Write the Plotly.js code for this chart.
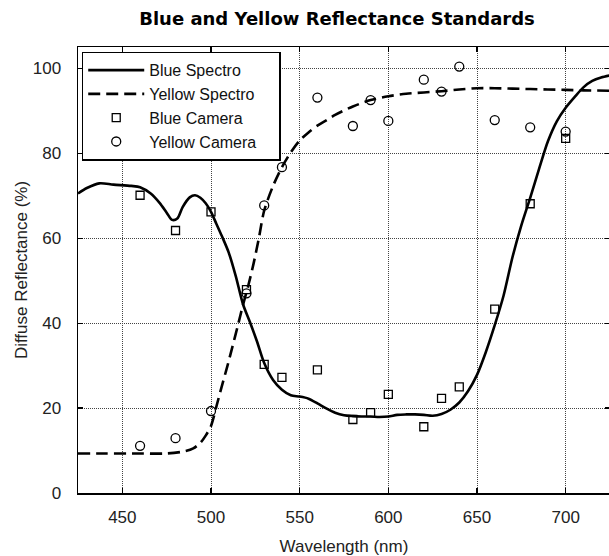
<!DOCTYPE html>
<html>
<head>
<meta charset="utf-8">
<script src="https://cdn.plot.ly/plotly-3.0.1.min.js"></script>
<style>
html,body{margin:0;padding:0;overflow:hidden;background:#fff;}
#chart{width:610px;height:556px;}
</style>
</head>
<body>
<div id="chart"></div>
<script>
// Blue spectrophotometer curve
const blueSpectroX = [425, 430, 437, 445, 455, 460, 466, 471, 475, 478, 481, 484, 488, 491, 494, 497, 500, 503, 506, 510, 514, 518, 522, 526, 530, 535, 540, 545, 550, 555, 560, 565, 570, 575, 580, 585, 590, 595, 600, 605, 610, 615, 620, 625, 630, 635, 640, 645, 650, 655, 660, 665, 670, 675, 680, 685, 690, 695, 700, 705, 710, 715, 720, 725];
const blueSpectroY = [70.5, 71.8, 72.9, 72.6, 72.3, 72.0, 70.5, 68.3, 66.0, 64.3, 64.6, 67.3, 69.6, 70.1, 69.5, 68.2, 66.2, 63.4, 60.6, 56.6, 51.0, 44.5, 40.2, 35.6, 30.6, 26.6, 24.3, 23.0, 22.7, 22.2, 21.1, 19.9, 18.9, 18.3, 18.1, 18.0, 18.0, 17.9, 18.0, 18.4, 18.5, 18.5, 18.4, 18.2, 18.6, 19.6, 21.3, 24.0, 27.8, 33.2, 39.5, 46.5, 55.5, 63.0, 69.5, 76.3, 82.8, 87.5, 90.7, 93.2, 95.5, 97.0, 97.8, 98.3];

// Yellow spectrophotometer curve
const yellowSpectroX = [425, 440, 460, 475, 485, 490, 494, 497, 500, 503, 506, 509, 512, 515, 518, 521, 524, 527, 530, 535, 540, 545, 550, 555, 560, 565, 570, 580, 590, 600, 610, 620, 630, 640, 650, 660, 670, 680, 690, 700, 710, 725];
const yellowSpectroY = [9.3, 9.3, 9.3, 9.3, 9.8, 10.5, 11.8, 13.5, 15.8, 20.3, 25.0, 29.5, 34.3, 39.2, 44.2, 48.8, 54.0, 60.0, 66.5, 72.3, 76.7, 80.2, 83.0, 84.9, 86.5, 87.7, 89.0, 91.0, 92.5, 93.4, 94.0, 94.3, 94.6, 95.0, 95.3, 95.3, 95.2, 95.1, 95.0, 94.9, 94.8, 94.7];

// Camera measurements
const blueCameraX = [460, 480, 500, 520, 530, 540, 560, 580, 590, 600, 620, 630, 640, 660, 680, 700];
const blueCameraY = [70.1, 61.8, 66.2, 47.9, 30.3, 27.2, 29.0, 17.3, 18.9, 23.2, 15.6, 22.3, 25.0, 43.3, 68.1, 83.5];

const yellowCameraX = [460, 480, 500, 520, 530, 540, 560, 580, 590, 600, 620, 630, 640, 660, 680, 700];
const yellowCameraY = [11.1, 12.9, 19.3, 47.0, 67.7, 76.7, 93.1, 86.4, 92.5, 87.6, 97.3, 94.5, 100.4, 87.8, 86.1, 85.1];

const xTicks = [450, 500, 550, 600, 650, 700];
const yTicks = [0, 20, 40, 60, 80, 100];
const seriesNames = ['Blue Spectro', 'Yellow Spectro', 'Blue Camera', 'Yellow Camera\u00A0\u00A0\u00A0\u00A0'];

const font = "Liberation Sans, Arial, sans-serif";

const traces = [
  {x: blueSpectroX, y: blueSpectroY, name: seriesNames[0], mode: 'lines',
   line: {color: '#000', width: 2.6, shape: 'spline', smoothing: 0.8}},
  {x: yellowSpectroX, y: yellowSpectroY, name: seriesNames[1], mode: 'lines',
   line: {color: '#000', width: 2.6, dash: '12px,6px', shape: 'spline', smoothing: 0.8}},
  {x: blueCameraX, y: blueCameraY, name: seriesNames[2], mode: 'markers',
   marker: {symbol: 'square-open', size: 8, color: '#000', line: {width: 1.3, color: '#000'}}},
  {x: yellowCameraX, y: yellowCameraY, name: seriesNames[3], mode: 'markers',
   marker: {symbol: 'circle-open', size: 9, color: '#000', line: {width: 1.3, color: '#000'}}}
];

const axisCommon = {
  showline: true, linecolor: '#000', linewidth: 1.5, mirror: 'ticks',
  ticks: 'inside', ticklen: 5, tickwidth: 1.2, tickcolor: '#000',
  showgrid: true, gridcolor: '#444', gridwidth: 1, griddash: '1px,1px',
  zeroline: false, tickfont: {family: font, size: 17, color: '#222'}
};

const layout = {
  width: 610, height: 556,
  margin: {l: 78, r: 0, t: 47, b: 63},
  paper_bgcolor: '#fff', plot_bgcolor: '#fff',
  title: {text: 'Blue and Yellow Reflectance Standards',
          font: {family: 'DejaVu Sans, sans-serif', size: 18, color: '#000', weight: 'bold'},
          xref: 'container', x: 337/610, xanchor: 'center',
          yref: 'container', y: 1 - 19/556, yanchor: 'middle'},
  xaxis: Object.assign({}, axisCommon, {
    range: [425, 725], tickvals: xTicks, ticktext: xTicks.map(String),
    ticklabelstandoff: 8,
    title: {text: 'Wavelength (nm)', font: {family: font, size: 17, color: '#222'}, standoff: 14}
  }),
  yaxis: Object.assign({}, axisCommon, {
    range: [0, 105], tickvals: yTicks, ticktext: yTicks.map(String),
    ticklabelstandoff: 12,
    title: {text: 'Diffuse Reflectance (%)', font: {family: font, size: 17, color: '#222'}, standoff: 1}
  }),
  showlegend: true,
  legend: {x: 0.007, y: 0.9895, xanchor: 'left', yanchor: 'top',
           bgcolor: '#fff', bordercolor: '#000', borderwidth: 1.5,
           font: {family: font, size: 16, color: '#111'},
           itemwidth: 56, tracegroupgap: 0}
};

Plotly.newPlot('chart', traces, layout, {displayModeBar: false, staticPlot: true});
</script>
</body>
</html>
